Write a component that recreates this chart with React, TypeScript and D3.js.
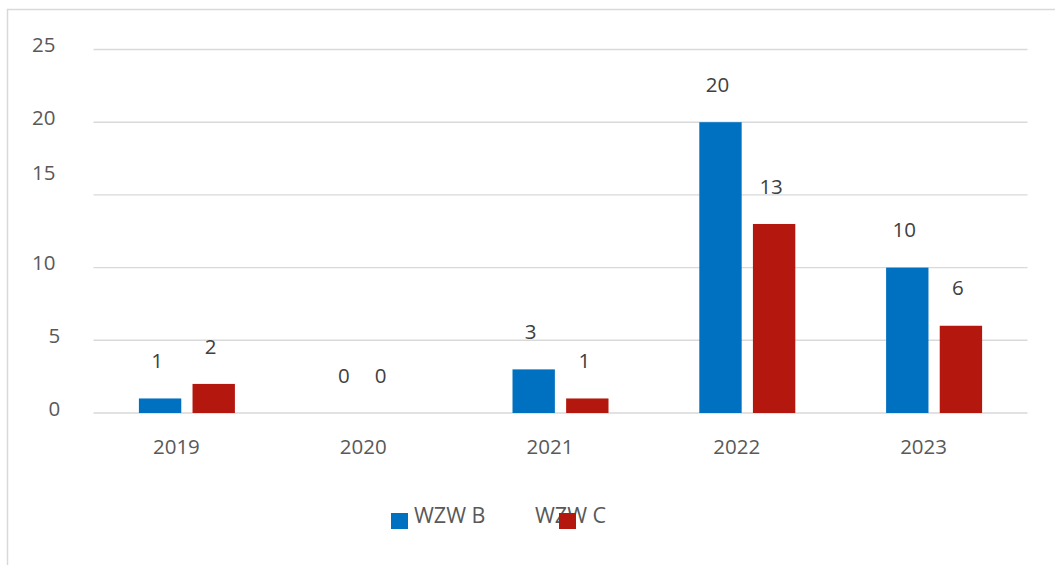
import React from "react";
import * as d3 from "d3";

const years = ["2019", "2020", "2021", "2022", "2023"];
const seriesNames = ["WZW B", "WZW C"];
const wzwB = [1, 0, 3, 20, 10];
const wzwC = [2, 0, 1, 13, 6];
const yTicks = [0, 5, 10, 15, 20, 25];
const colors = ["#0070C0", "#B4170D"];

const W = 1055;
const H = 565;
const FONT = "'Open Sans', 'Noto Sans', sans-serif";

export default function App() {
  const x0 = d3.scaleBand<string>().domain(years).range([93.5, 1027.5]).padding(0);
  const x1 = d3
    .scaleBand<string>()
    .domain(seriesNames)
    .range([(x0.bandwidth() - 96) / 2, (x0.bandwidth() + 96) / 2])
    .paddingInner(0.21)
    .paddingOuter(0);
  const y = d3.scaleLinear().domain([0, 25]).range([413, 49.5]);
  const values = [wzwB, wzwC];

  // label nudge for the misplaced "15" tick label in the original
  const tickLabelNudge = (t: number) => (t === 15 ? -18 : 0);

  return (
    <svg
      width={W}
      height={H}
      style={{ position: "fixed", left: 0, top: 0, background: "#fff" }}
      fontFamily={FONT}
    >
      <rect x={7.5} y={9.5} width={W + 20} height={H + 20} fill="#fff" stroke="#d9d9d9" strokeWidth={1.5} />
      {/* grid lines */}
      {yTicks.map((t) => (
        <line key={"g" + t} x1={93.5} x2={1027.5} y1={y(t)} y2={y(t)} stroke="#d9d9d9" strokeWidth={1.4} />
      ))}
      {/* y tick labels */}
      {yTicks.map((t) => (
        <text
          key={"yl" + t}
          x={String(t).length > 1 ? 32 : 48.5}
          y={y(t) - 4.3 + tickLabelNudge(t)}
          dy="0.35em"
          fontSize={20.5}
          fill="#595959"
        >
          {t}
        </text>
      ))}
      {/* bars */}
      {years.map((yr, i) => (
        <g key={yr} transform={`translate(${x0(yr)},0)`}>
          {seriesNames.map((s, j) => {
            const v = values[j][i];
            return (
              <rect
                key={s}
                x={x1(s)}
                y={y(v)}
                width={x1.bandwidth()}
                height={y(0) - y(v)}
                fill={colors[j]}
              />
            );
          })}
        </g>
      ))}
      {/* data labels */}
      {years.map((yr, i) =>
        seriesNames.map((s, j) => {
          const v = values[j][i];
          const cx = (x0(yr) as number) + (x1(s) as number) + x1.bandwidth() / 2;
          const dx = v === 0 && j === 1 ? -20 : -3;
          return (
            <text
              key={yr + s}
              x={cx + dx}
              y={y(v) - 37.5}
              dy="0.35em"
              textAnchor="middle"
              fontSize={20.5}
              fill="#404040"
            >
              {v}
            </text>
          );
        })
      )}
      {/* category labels */}
      {years.map((yr) => (
        <text
          key={"c" + yr}
          x={(x0(yr) as number) + x0.bandwidth() / 2 - 10.5}
          y={446.7}
          dy="0.35em"
          textAnchor="middle"
          fontSize={20.5}
          fill="#595959"
        >
          {yr}
        </text>
      ))}
      {/* legend */}
      <g>
        <text x={414} y={515.7} dy="0.35em" fontSize={21.5} fill="#595959">
          {seriesNames[0]}
        </text>
        <rect x={391} y={513} width={17} height={16} fill={colors[0]} />
        <text x={535} y={515.7} dy="0.35em" fontSize={21.5} fill="#595959">
          {seriesNames[1]}
        </text>
        <rect x={559} y={513} width={17} height={16} fill={colors[1]} />
      </g>
    </svg>
  );
}
